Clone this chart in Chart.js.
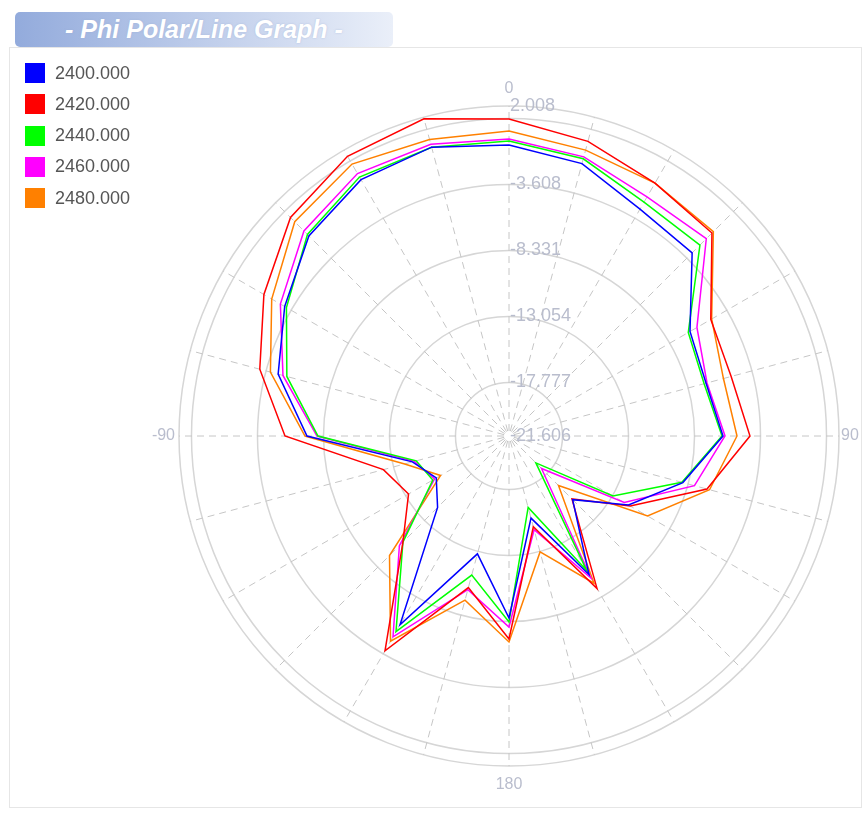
<!DOCTYPE html>
<html>
<head>
<meta charset="utf-8">
<title>Phi Polar/Line Graph</title>
<script src="https://cdn.jsdelivr.net/npm/chart.js@4.4.1/dist/chart.umd.min.js"></script>
<style>
  html, body { margin: 0; padding: 0; background: #fff; }
  body { width: 867px; height: 814px; position: relative; overflow: hidden; font-family: "Liberation Sans", Arial, sans-serif; }
  #title {
    position: absolute; left: 15px; top: 12px; width: 378px; height: 35px;
    border-radius: 5px;
    background: linear-gradient(to right, #93abdc, #eaeff9);
    color: #fff; font: italic bold 25px "Liberation Sans", Arial, sans-serif;
    line-height: 34px; text-align: center;
    text-shadow: 0 0 2px rgba(150, 170, 210, .6);
  }
  #panel { position: absolute; left: 9px; top: 47px; width: 851px; height: 759px; border: 1px solid #e6e6e6; }
  #panel canvas { display: block; }
  #legend { position: absolute; left: 25px; top: 63px; margin: 0; padding: 0; list-style: none; }
  #legend li { height: 20px; margin-bottom: 11.25px; display: flex; align-items: center; font: 18px "Liberation Sans", Arial, sans-serif; color: #555; }
  #legend span { display: inline-block; width: 20px; height: 20px; margin-right: 10px; }
</style>
</head>
<body>
<div id="title">- Phi Polar/Line Graph -</div>
<div id="panel"><canvas id="phi-chart" width="851" height="759"></canvas></div>
<ul id="legend"></ul>
<script>
const phiCanvas = document.getElementById('phi-chart');
const legendList = document.getElementById('legend');

// phi angles, every 15 deg, clockwise from the top
const phiAngles = ['0', '15', '30', '45', '60', '75', '90', '105', '120', '135', '150', '165',
	'180', '195', '210', '225', '240', '255', '270', '285', '300', '315', '330', '345'];

const freqNames = ['2400.000', '2420.000', '2440.000', '2460.000', '2480.000'];
const freqColors = ['#0000ff', '#ff0000', '#00ff00', '#ff00ff', '#ff8000'];

// gain per angle (dB)
const gain2400 = [-0.783, -1.427, -2.858, -3.072, -6.650, -7.008, -6.293, -8.726, -11.731, -15.166, -10.157, -15.524,
	-8.582, -12.876, -6.006, -14.379, -15.595, -14.450, -7.151, -4.504, -3.072, -1.355, -0.425, -0.210];
const gain2420 = [1.078, 0.219, -0.711, -1.069, -4.933, -5.148, -4.361, -6.937, -11.588, -15.237, -9.012, -14.880,
	-7.080, -10.371, -3.860, -10.872, -13.305, -12.303, -5.577, -3.144, -1.355, 0.505, 1.507, 1.900];
const gain2440 = [-0.496, -1.069, -2.285, -2.285, -6.793, -7.151, -6.364, -8.797, -13.019, -18.887, -10.515, -16.311,
	-8.296, -11.302, -5.434, -10.872, -15.309, -14.736, -7.938, -5.148, -3.216, -1.212, -0.210, -0.210];
const gain2460 = [-0.353, -0.926, -1.856, -1.641, -6.078, -6.937, -6.149, -7.867, -12.089, -18.314, -9.870, -14.665,
	-7.938, -10.228, -5.005, -10.515, -15.452, -14.593, -7.867, -4.861, -2.715, -0.854, 0.076, 0.005];
const gain2480 = [0.219, -0.425, -0.711, -0.926, -4.861, -5.720, -5.291, -6.750, -10.157, -16.597, -9.441, -13.019,
	-6.865, -9.441, -4.647, -9.513, -15.953, -13.878, -7.008, -3.931, -1.999, 0.076, 0.863, 0.362];
const gainSeries = [gain2400, gain2420, gain2440, gain2460, gain2480];

// radial rings and the text shown on them
const ringValues = [-21.606, -17.777, -13.054, -8.331, -3.608, 1.115, 2.008];
const ringLabels = ['-21.606', '-17.777', '-13.054', '-8.331', '-3.608', '', '2.008'];

// only four angles get a label
const axisAngles = ['0', '90', '180', '270'];
const axisTexts = ['0', '90', '180', '-90'];

// draws ring values beside the vertical axis and the 4 angle labels
const polarText = {
	id: 'polarText',
	afterDraw(chart) {
		const r = chart.scales.r;
		const ctx = chart.ctx;
		ctx.save();
		ctx.fillStyle = '#b9bdcd';
		ctx.font = '18px "Liberation Sans", Arial, sans-serif';
		ctx.textAlign = 'left';
		ctx.textBaseline = 'middle';
		r.ticks.forEach((tick, i) => {
			const text = ringLabels[i];
			if (!text) return;
			const d = r.getDistanceFromCenterForValue(tick.value);
			ctx.fillText(text, r.xCenter + 1, r.yCenter - d);
		});

		ctx.font = '16px "Liberation Sans", Arial, sans-serif';
		axisAngles.forEach((a, i) => {
			const idx = phiAngles.indexOf(a);
			let pad = 3, align = 'center', base = 'middle';
			if (a === '0') { pad = 9; base = 'bottom'; }
			if (a === '180') { pad = 11; base = 'top'; }
			if (a === '90') { pad = 2; align = 'left'; }
			if (a === '270') { pad = 4; align = 'right'; }
			const p = r.getPointPosition(idx, r.drawingArea + pad);
			ctx.textAlign = align;
			ctx.textBaseline = base;
			ctx.fillText(axisTexts[i], p.x, p.y);
		});
		ctx.restore();
	}
};

const phiData = {
	labels: phiAngles,
	datasets: gainSeries.map((g, i) => ({
		label: freqNames[i],
		data: g,
		borderColor: freqColors[i],
		backgroundColor: freqColors[i],
		borderWidth: 1.5,
		fill: false,
		pointRadius: 0,
		tension: 0
	}))
};

const phiOptions = {
	responsive: false,
	animation: false,
	layout: {
		padding: { left: 169, top: 58, right: 22, bottom: 41 }
	},
	scales: {
		r: {
			min: -21.606,
			max: 2.008,
			startAngle: 0,
			afterBuildTicks: (scale) => {
				scale.ticks = ringValues.map(v => ({ value: v }));
			},
			ticks: {
				display: false
			},
			grid: {
				circular: true,
				color: '#d6d6d6',
				lineWidth: 1.5
			},
			angleLines: {
				color: '#c6c6c6',
				lineWidth: 1,
				borderDash: [7, 5],
				borderDashOffset: 7
			},
			pointLabels: {
				display: false
			}
		}
	},
	plugins: {
		legend: { display: false },
		tooltip: { enabled: false }
	}
};

const phiChart = new Chart(phiCanvas, {
	type: 'radar',
	data: phiData,
	options: phiOptions,
	plugins: [polarText]
});

// legend list built from the chart's datasets
phiChart.data.datasets.forEach(ds => {
	const li = document.createElement('li');
	li.innerHTML = `<span style="background:${ds.borderColor}"></span>${ds.label}`;
	legendList.appendChild(li);
});
</script>
</body>
</html>
